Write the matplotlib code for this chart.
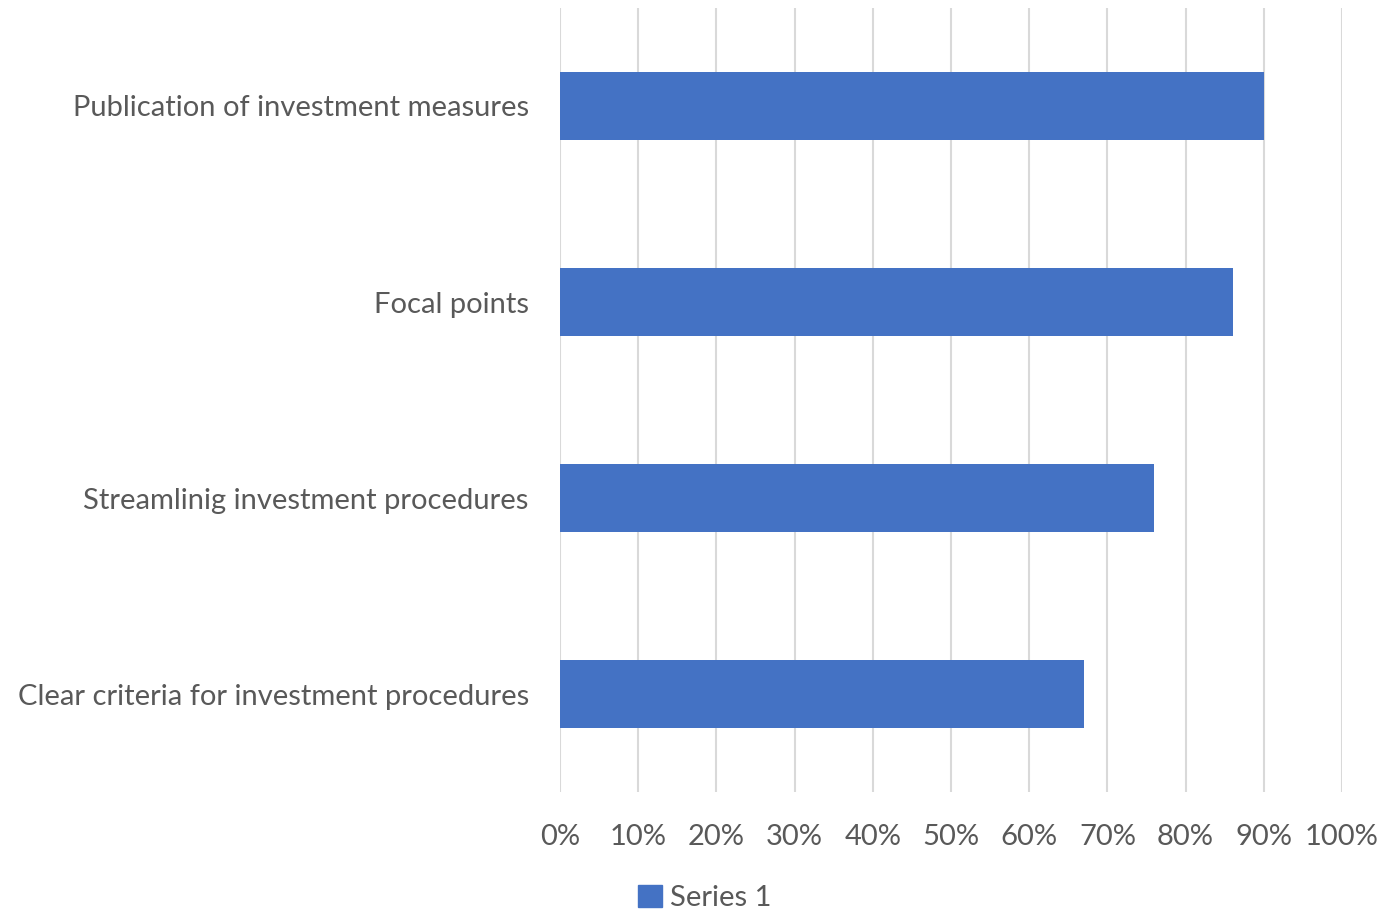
import matplotlib
matplotlib.use("Agg")
import matplotlib.pyplot as plt
from matplotlib.patches import Patch

categories = ["Clear criteria for investment procedures",
              "Streamlinig investment procedures",
              "Focal points",
              "Publication of investment measures"]
values = [0.67, 0.76, 0.86, 0.90]
xticks = [0, 0.1, 0.2, 0.3, 0.4, 0.5, 0.6, 0.7, 0.8, 0.9, 1.0]
xticklabels = ["0%", "10%", "20%", "30%", "40%", "50%", "60%", "70%", "80%", "90%", "100%"]
series_name = "Series 1"

plt.rcParams['font.family'] = ['Lato', 'DejaVu Sans']
txt = '#595959'
fig = plt.figure(figsize=(13.82, 9.13), dpi=100)
ax = fig.add_axes([560/1382, 1-792/913, (1342-560)/1382, (792-8)/913])
ypos = range(len(categories))
ax.barh(ypos, values, height=0.345, color='#4472C4', zorder=3)
ax.set_xlim(0, 1.0)
ax.set_ylim(-0.5, len(categories)-0.5)
ax.set_xticks(xticks)
ax.set_xticklabels(xticklabels)
ax.set_yticks(list(ypos))
ax.set_yticklabels(categories)
ax.grid(axis='x', color='#d9d9d9', linewidth=1.5, zorder=0)
for s in ax.spines.values():
    s.set_visible(False)
ax.tick_params(axis='both', length=0, colors=txt, labelsize=21)
ax.tick_params(axis='x', pad=23)
ax.tick_params(axis='y', pad=22.5)
fig.legend(handles=[Patch(color='#4472C4')], labels=[series_name], loc='center',
           bbox_to_anchor=(705/1382, 1-898/913), frameon=False, fontsize=21,
           labelcolor=txt, handlelength=0.8, handleheight=0.8, handletextpad=0.3)
fig.savefig('out.png', dpi=100)
